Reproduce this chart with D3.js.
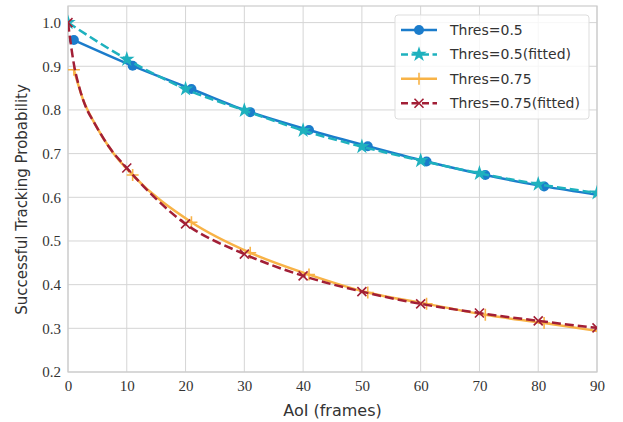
<!DOCTYPE html>
<html>
<head>
<meta charset="utf-8">
<script src="https://cdn.jsdelivr.net/npm/d3@7"></script>
<style>
  body { margin: 0; background: #fff; overflow: hidden; }
  svg { display: block; }
</style>
</head>
<body>
<svg id="mainsvg" width="623" height="422"></svg>
<script>
// measured curves (frames start at 1, a marker every 10 frames)
const framesThres05 = [1, 11, 21, 31, 41, 51, 61, 71, 81, 90];
const thres05 = [0.960, 0.901, 0.848, 0.795, 0.754, 0.717, 0.682, 0.651, 0.625, 0.606];

const framesThres075 = [1, 2.5, 4.5, 7.5, 11, 21, 31, 41, 51, 61, 71, 81, 90];
const thres075 = [0.892, 0.826, 0.770, 0.705, 0.651, 0.543, 0.473, 0.423, 0.382, 0.356, 0.331, 0.312, 0.294];

// fitted curves (frames start at 0)
const framesFit05 = [0, 10, 20, 30, 40, 50, 60, 70, 80, 90];
const fitted05 = [1.000, 0.916, 0.848, 0.799, 0.753, 0.716, 0.684, 0.655, 0.630, 0.610];

const framesFit075 = [0, 1, 2, 3, 4.5, 7, 10, 20, 30, 40, 50, 60, 70, 80, 90];
const fitted075 = [1.000, 0.905, 0.848, 0.808, 0.770, 0.715, 0.667, 0.539, 0.470, 0.420, 0.384, 0.356, 0.335, 0.317, 0.301];

const xTicks = [0, 10, 20, 30, 40, 50, 60, 70, 80, 90];
const yTicks = [0.2, 0.3, 0.4, 0.5, 0.6, 0.7, 0.8, 0.9, 1.0];

const seriesNames = ["Thres=0.5", "Thres=0.5(fitted)", "Thres=0.75", "Thres=0.75(fitted)"];

const svg = d3.select('#mainsvg');
const myWidth = +svg.attr('width');
const myHeight = +svg.attr('height');

const margin = { top: 6, right: 26, bottom: 50, left: 68 };
const innerWidth = myWidth - margin.left - margin.right;
const innerHeight = myHeight - margin.top - margin.bottom;

// 比例尺
const x = d3.scaleLinear().domain([0, 90]).range([0, innerWidth]);
const y = d3.scaleLinear().domain([0.2, 1.038]).range([innerHeight, 0]);

const g = svg.append('g')
  .attr('transform', `translate(${margin.left},${margin.top})`);

g.append('clipPath')
  .attr('id', 'plotclip')
  .append('rect')
  .attr('width', innerWidth)
  .attr('height', innerHeight);

// grid
g.append('g')
  .selectAll('line')
  .data(xTicks)
  .join('line')
  .attr('x1', d => x(d)).attr('x2', d => x(d))
  .attr('y1', 0).attr('y2', innerHeight)
  .attr('stroke', '#d5d5d5')
  .attr('stroke-width', 1);

g.append('g')
  .selectAll('line')
  .data(yTicks)
  .join('line')
  .attr('x1', 0).attr('x2', innerWidth)
  .attr('y1', d => y(d)).attr('y2', d => y(d))
  .attr('stroke', '#d5d5d5')
  .attr('stroke-width', 1);

// frame
g.append('rect')
  .attr('width', innerWidth)
  .attr('height', innerHeight)
  .attr('fill', 'none')
  .attr('stroke', '#cccccc')
  .attr('stroke-width', 1.2);

// axes (tick labels only)
const xAxis = g.append('g')
  .attr('transform', `translate(0,${innerHeight})`)
  .call(d3.axisBottom(x).tickValues(xTicks).tickSize(0).tickPadding(8).tickFormat(d3.format('d')));
const yAxis = g.append('g')
  .call(d3.axisLeft(y).tickValues(yTicks).tickSize(0).tickPadding(7).tickFormat(d3.format('.1f')));

[xAxis, yAxis].forEach(ax => {
  ax.select('.domain').remove();
  ax.selectAll('text')
    .attr('font-family', '"Liberation Serif", "DejaVu Serif", serif')
    .attr('font-size', 15)
    .attr('fill', '#333');
});

// axis titles
svg.append('text')
  .attr('x', margin.left + innerWidth / 2)
  .attr('y', myHeight - 6)
  .attr('text-anchor', 'middle')
  .attr('font-family', '"DejaVu Sans", sans-serif')
  .attr('font-size', 16)
  .attr('fill', '#333')
  .text('AoI (frames)');

svg.append('text')
  .attr('transform', `translate(27,${margin.top + y(0.595)}) rotate(-90)`)
  .attr('text-anchor', 'middle')
  .attr('font-family', '"DejaVu Sans", sans-serif')
  .attr('font-size', 15)
  .attr('fill', '#333')
  .text('Successful Tracking Probability');

// series
const series = [
  { name: seriesNames[0], xs: framesThres05, ys: thres05, color: '#1b7ccb', dash: null, marker: 'circle', markAt: v => v % 10 === 1 },
  { name: seriesNames[1], xs: framesFit05, ys: fitted05, color: '#1eb1be', dash: '9,4', marker: 'star', markAt: v => v % 10 === 0 },
  { name: seriesNames[2], xs: framesThres075, ys: thres075, color: '#f8b347', dash: null, marker: 'plus', markAt: v => v % 10 === 1 },
  { name: seriesNames[3], xs: framesFit075, ys: fitted075, color: '#a21f36', dash: '9,4', marker: 'cross', markAt: v => v % 10 === 0 }
];

const line = d3.line()
  .x(d => x(d[0]))
  .y(d => y(d[1]))
  .curve(d3.curveMonotoneX);

function drawMarker(sel, type, color) {
  if (type === 'circle') {
    sel.append('circle').attr('r', 5).attr('fill', color);
  } else if (type === 'star') {
    sel.append('path').attr('d', d3.symbol(d3.symbolStar, 75)()).attr('fill', color);
  } else if (type === 'plus') {
    sel.append('path').attr('d', 'M-6,0H6M0,-6V6').attr('stroke', color).attr('stroke-width', 1.6);
  } else if (type === 'cross') {
    sel.append('path').attr('d', 'M-4.5,-4.5L4.5,4.5M-4.5,4.5L4.5,-4.5').attr('stroke', color).attr('stroke-width', 1.6);
  }
}

const plot = g.append('g').attr('clip-path', 'url(#plotclip)');

series.forEach(s => {
  const pts = s.xs.map((v, i) => [v, s.ys[i]]);
  plot.append('path')
    .datum(pts)
    .attr('d', line)
    .attr('fill', 'none')
    .attr('stroke', s.color)
    .attr('stroke-width', 2.5)
    .attr('stroke-dasharray', s.dash);

  pts.filter(p => s.markAt(p[0])).forEach(p => {
    const m = plot.append('g').attr('transform', `translate(${x(p[0])},${y(p[1])})`);
    drawMarker(m, s.marker, s.color);
  });
});

// legend
const legend = svg.append('g').attr('transform', 'translate(395,15)');
legend.append('rect')
  .attr('width', 194)
  .attr('height', 104)
  .attr('rx', 3)
  .attr('fill', 'rgba(255,255,255,0.8)')
  .attr('stroke', '#dddddd');

series.forEach((s, i) => {
  const row = legend.append('g').attr('transform', `translate(0,${15 + i * 24.4})`);
  row.append('line')
    .attr('x1', 6).attr('x2', 42)
    .attr('stroke', s.color)
    .attr('stroke-width', 2.5)
    .attr('stroke-dasharray', s.dash ? '7,3.5' : null);
  drawMarker(row.append('g').attr('transform', 'translate(24,0)'), s.marker, s.color);
  row.append('text')
    .attr('x', 55)
    .attr('dy', '0.35em')
    .attr('font-family', '"DejaVu Sans", sans-serif')
    .attr('font-size', 14)
    .attr('fill', '#333')
    .text(s.name);
});
</script>
</body>
</html>
